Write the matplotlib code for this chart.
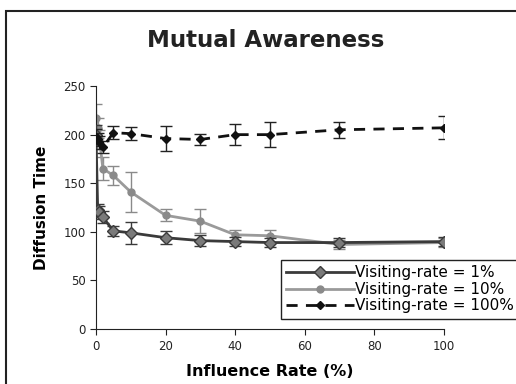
import numpy as np
import matplotlib
matplotlib.use("Agg")
import matplotlib.pyplot as plt
from matplotlib.patches import Rectangle

# influence rate (%) values
x = [0, 0.5, 1, 2, 5, 10, 20, 30, 40, 50, 70, 100]

# visiting-rate = 1%
y1 = [200, 122, 120, 115, 101, 99, 94, 91, 90, 89, 89, 90]
e1 = [10, 7, 7, 6, 5, 11, 7, 6, 5, 5, 5, 5]

# visiting-rate = 10%
y10 = [217, 207, 195, 165, 158, 141, 117, 111, 97, 96, 87, 89]
e10 = [15, 10, 10, 12, 10, 21, 6, 12, 5, 6, 5, 5]

# visiting-rate = 100%
y100 = [198, 195, 192, 187, 202, 201, 196, 195, 200, 200, 205, 207]
e100 = [8, 7, 7, 6, 7, 7, 13, 6, 11, 13, 8, 12]

labels = ["Visiting-rate = 1%", "Visiting-rate = 10%", "Visiting-rate = 100%"]

fig = plt.figure(figsize=(5.16, 3.84), dpi=100)
ax = fig.add_axes([0.186, 0.143, 0.674, 0.633])

# whole-figure frame (only left/top edges visible in the original)
fig.patches.append(Rectangle((6/516, -0.1), 1.2, 1 - 11/384 + 0.1,
                             transform=fig.transFigure, fill=False,
                             edgecolor="#222222", linewidth=1.5))

c1 = ax.errorbar(x, y1, yerr=e1, color="#3a3a3a", lw=2, marker="D", ms=6,
                 mfc="#7a7a7a", mec="#3a3a3a", ecolor="#3a3a3a", elinewidth=1,
                 capsize=4, zorder=3)
c10 = ax.errorbar(x, y10, yerr=e10, color="#9a9a9a", lw=2, marker="o", ms=5,
                  mfc="#8a8a8a", mec="#8a8a8a", ecolor="#8a8a8a", elinewidth=1,
                  capsize=4, zorder=2)
c100 = ax.errorbar(x, y100, yerr=e100, color="#111111", lw=2, ls=(0, (4, 3)),
                   marker="D", ms=4.5, mfc="#111111", mec="#111111",
                   ecolor="#222222", elinewidth=1, capsize=4, zorder=4)

ax.set_xlim(0, 100)
ax.set_ylim(0, 250)
ax.set_xticks([0, 20, 40, 60, 80, 100])
ax.set_yticks([0, 50, 100, 150, 200, 250])
ax.spines["top"].set_visible(False)
ax.spines["right"].set_visible(False)
ax.spines["left"].set_color("#222222")
ax.spines["bottom"].set_color("#222222")
ax.tick_params(direction="out", length=4, labelsize=8.5, colors="#222222")

ax.set_xlabel("Influence Rate (%)", fontsize=11.5, fontweight="bold", labelpad=8)
ax.set_ylabel("Diffusion Time", fontsize=11, fontweight="bold", labelpad=10)
fig.text(0.515, 0.895, "Mutual Awareness", ha="center", va="center",
         fontsize=16.5, fontweight="bold", color="#222222")

# legend shows only the line+marker, no error bars
leg = ax.legend([c1[0], c10[0], c100[0]], labels,
                loc="upper left", bbox_to_anchor=(281/516, 1 - 260/384),
                bbox_transform=fig.transFigure, fontsize=11, fancybox=False,
                framealpha=1, edgecolor="#222222", borderpad=0.35,
                labelspacing=0.1, handlelength=4.4, handletextpad=0.1,
                borderaxespad=0)
leg.get_frame().set_linewidth(1)

fig.savefig("out.png", dpi=100)
